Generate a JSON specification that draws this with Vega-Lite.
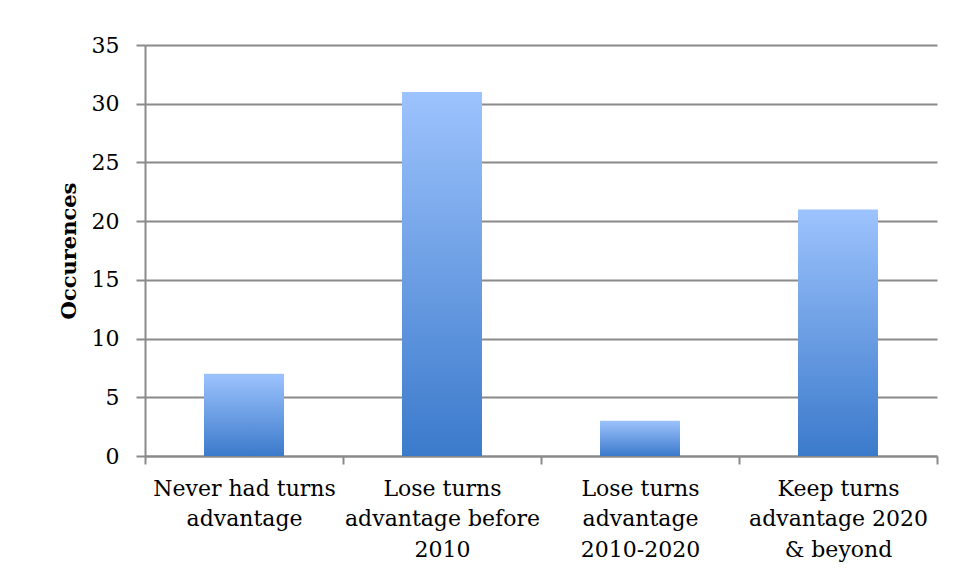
{
  "$schema": "https://vega.github.io/schema/vega-lite/v6.json",
  "autosize": {"type": "none"},
  "width": 792,
  "height": 411,
  "padding": {"left": 145, "top": 45, "right": 24, "bottom": 124},
  "background": "white",
  "data": {
    "values": [
      {"outcome": "Never had turns|advantage", "count": 7},
      {"outcome": "Lose turns|advantage before|2010", "count": 31},
      {"outcome": "Lose turns|advantage|2010-2020", "count": 3},
      {"outcome": "Keep turns|advantage 2020|& beyond", "count": 21}
    ]
  },
  "mark": {
    "type": "bar",
    "width": {"band": 0.404},
    "color": {
      "gradient": "linear",
      "x1": 0, "y1": 0, "x2": 0, "y2": 1,
      "stops": [
        {"offset": 0, "color": "#9dc3fd"},
        {"offset": 1, "color": "#3b7acb"}
      ]
    }
  },
  "encoding": {
    "x": {
      "field": "outcome",
      "type": "nominal",
      "sort": null,
      "scale": {"paddingInner": 0, "paddingOuter": 0},
      "axis": {
        "title": null,
        "labelAngle": 0,
        "labelExpr": "split(datum.label, '|')",
        "labelLineHeight": 30.5,
        "labelPadding": 14,
        "labelLimit": 0,
        "tickBand": "extent",
        "tickSize": 8,
        "grid": false
      }
    },
    "y": {
      "field": "count",
      "type": "quantitative",
      "scale": {"domain": [0, 35], "nice": false},
      "axis": {
        "title": "Occurences",
        "titleFontWeight": "bold",
        "titleFontSize": 21,
        "titlePadding": 12,
        "values": [0, 5, 10, 15, 20, 25, 30, 35],
        "tickSize": 9,
        "labelPadding": 17,
        "grid": true
      }
    }
  },
  "config": {
    "view": {"stroke": null},
    "font": "DejaVu Serif",
    "axis": {
      "labelFont": "DejaVu Serif",
      "titleFont": "DejaVu Serif",
      "labelFontSize": 22,
      "titleFontSize": 21,
      "labelColor": "#000000",
      "titleColor": "#000000",
      "domainColor": "#8a8a8a",
      "domainWidth": 2,
      "tickColor": "#8a8a8a",
      "tickWidth": 2,
      "gridColor": "#8a8a8a",
      "gridWidth": 2,
      "gridOpacity": 1,
      "domainOpacity": 1,
      "tickOpacity": 1
    }
  }
}
